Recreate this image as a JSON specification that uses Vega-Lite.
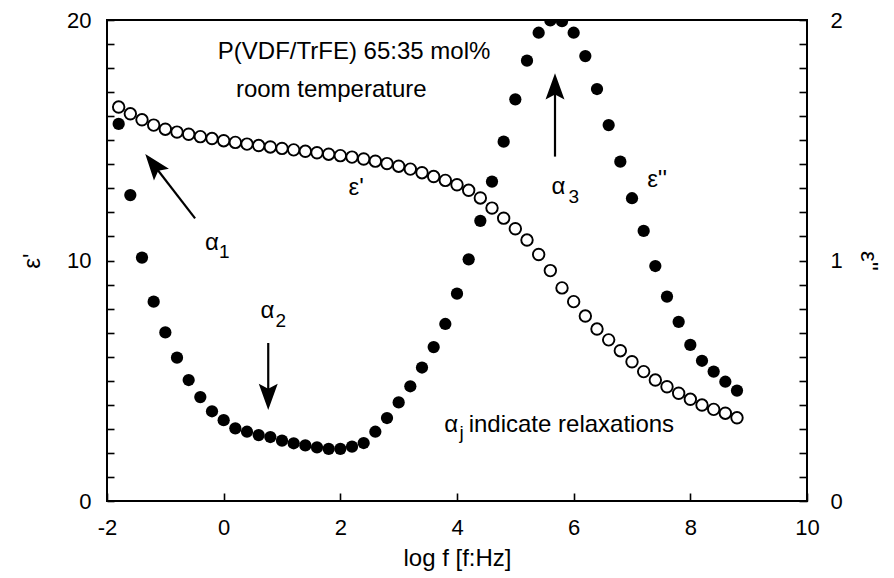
{
  "$schema": "https://vega.github.io/schema/vega-lite/v6.json",
  "width": 700,
  "height": 481,
  "autosize": {"type": "none"},
  "padding": {"left": 107, "top": 20, "right": 87, "bottom": 77},
  "background": "white",
  "config": {
    "view": {"stroke": "black", "strokeWidth": 2},
    "axis": {
      "labelFont": "Liberation Sans",
      "titleFont": "Liberation Sans",
      "labelColor": "black",
      "titleColor": "black",
      "labelFontSize": 22,
      "titleFontSize": 24,
      "titleFontWeight": "normal",
      "tickColor": "black",
      "tickWidth": 1.6,
      "domain": false,
      "grid": false,
      "labelOverlap": false,
      "labelFlush": false,
      "labelBound": false
    },
    "text": {"font": "Liberation Sans", "color": "black"}
  },
  "datasets": {
    "eps": [
      {"logf": -1.8, "e1": 16.38, "e2": 1.568},
      {"logf": -1.6, "e1": 16.10, "e2": 1.272},
      {"logf": -1.4, "e1": 15.85, "e2": 1.012},
      {"logf": -1.2, "e1": 15.63, "e2": 0.829},
      {"logf": -1.0, "e1": 15.46, "e2": 0.701},
      {"logf": -0.8, "e1": 15.34, "e2": 0.596},
      {"logf": -0.6, "e1": 15.25, "e2": 0.503},
      {"logf": -0.4, "e1": 15.15, "e2": 0.432},
      {"logf": -0.2, "e1": 15.07, "e2": 0.373},
      {"logf": 0.0, "e1": 14.98, "e2": 0.336},
      {"logf": 0.2, "e1": 14.91, "e2": 0.302},
      {"logf": 0.4, "e1": 14.84, "e2": 0.288},
      {"logf": 0.6, "e1": 14.78, "e2": 0.274},
      {"logf": 0.8, "e1": 14.72, "e2": 0.266},
      {"logf": 1.0, "e1": 14.66, "e2": 0.251},
      {"logf": 1.2, "e1": 14.60, "e2": 0.240},
      {"logf": 1.4, "e1": 14.54, "e2": 0.231},
      {"logf": 1.6, "e1": 14.48, "e2": 0.223},
      {"logf": 1.8, "e1": 14.42, "e2": 0.217},
      {"logf": 2.0, "e1": 14.36, "e2": 0.217},
      {"logf": 2.2, "e1": 14.30, "e2": 0.226},
      {"logf": 2.4, "e1": 14.22, "e2": 0.241},
      {"logf": 2.6, "e1": 14.13, "e2": 0.288},
      {"logf": 2.8, "e1": 14.03, "e2": 0.345},
      {"logf": 3.0, "e1": 13.92, "e2": 0.410},
      {"logf": 3.2, "e1": 13.80, "e2": 0.477},
      {"logf": 3.4, "e1": 13.65, "e2": 0.555},
      {"logf": 3.6, "e1": 13.49, "e2": 0.640},
      {"logf": 3.8, "e1": 13.33, "e2": 0.736},
      {"logf": 4.0, "e1": 13.15, "e2": 0.862},
      {"logf": 4.2, "e1": 12.92, "e2": 1.005},
      {"logf": 4.4, "e1": 12.60, "e2": 1.165},
      {"logf": 4.6, "e1": 12.18, "e2": 1.328},
      {"logf": 4.8, "e1": 11.76, "e2": 1.494},
      {"logf": 5.0, "e1": 11.32, "e2": 1.670},
      {"logf": 5.2, "e1": 10.85, "e2": 1.831},
      {"logf": 5.4, "e1": 10.25, "e2": 1.947},
      {"logf": 5.6, "e1": 9.58, "e2": 1.998},
      {"logf": 5.8, "e1": 8.86, "e2": 1.995},
      {"logf": 6.0, "e1": 8.29, "e2": 1.947},
      {"logf": 6.2, "e1": 7.69, "e2": 1.850},
      {"logf": 6.4, "e1": 7.15, "e2": 1.713},
      {"logf": 6.6, "e1": 6.70, "e2": 1.563},
      {"logf": 6.8, "e1": 6.25, "e2": 1.411},
      {"logf": 7.0, "e1": 5.79, "e2": 1.259},
      {"logf": 7.2, "e1": 5.38, "e2": 1.123},
      {"logf": 7.4, "e1": 5.03, "e2": 0.977},
      {"logf": 7.6, "e1": 4.75, "e2": 0.850},
      {"logf": 7.8, "e1": 4.48, "e2": 0.745},
      {"logf": 8.0, "e1": 4.23, "e2": 0.649},
      {"logf": 8.2, "e1": 3.99, "e2": 0.583},
      {"logf": 8.4, "e1": 3.81, "e2": 0.538},
      {"logf": 8.6, "e1": 3.65, "e2": 0.496},
      {"logf": 8.8, "e1": 3.46, "e2": 0.459}
    ],
    "centered": [
      {"logf": 2.27, "e1": 13.01, "label": "ε'"},
      {"logf": 7.43, "e1": 13.35, "label": "ε''"},
      {"logf": -0.2, "e1": 10.73, "label": "α"},
      {"logf": 0.75, "e1": 7.88, "label": "α"},
      {"logf": 5.74, "e1": 13.04, "label": "α"},
      {"logf": 3.9, "e1": 3.16, "label": "α"}
    ],
    "subs": [
      {"logf": 0.01, "e1": 10.35, "label": "1"},
      {"logf": 0.98, "e1": 7.5, "label": "2"},
      {"logf": 6.0, "e1": 12.65, "label": "3"},
      {"logf": 4.08, "e1": 2.83, "label": "j"}
    ],
    "lefttext": [
      {"logf": -0.1, "e1": 18.67, "label": "P(VDF/TrFE) 65:35 mol%"},
      {"logf": 0.21, "e1": 17.09, "label": "room temperature"},
      {"logf": 4.2, "e1": 3.16, "label": "indicate relaxations"}
    ],
    "arrows": [
      {"id": "a1", "logf": -0.49, "e1": 11.75, "hx": -1.19, "hy": 13.95},
      {"id": "a2", "logf": 0.764, "e1": 6.57, "hx": 0.764, "hy": 4.39},
      {"id": "a3", "logf": 5.68, "e1": 14.32, "hx": 5.68, "hy": 17.18}
    ]
  },
  "layer": [
    {
      "data": {"name": "eps"},
      "mark": {"type": "circle", "color": "black", "size": 150, "opacity": 1, "clip": true},
      "encoding": {
        "x": {"field": "logf", "type": "quantitative", "scale": {"domain": [-2, 10], "nice": false},
              "axis": {"values": [-2, 0, 2, 4, 6, 8, 10], "labelExpr": "datum.value < 0 ? '-' + format(abs(datum.value), 'd') : format(datum.value, 'd')", "offset": -8, "tickSize": 8, "labelPadding": 16, "title": "log f [f:Hz]", "titlePadding": 8}},
        "y": {"field": "e2", "type": "quantitative", "scale": {"domain": [0, 2], "nice": false},
              "axis": {"orient": "right", "values": [0,0.1,0.2,0.3,0.4,0.5,0.6,0.7,0.8,0.9,1,1.1,1.2,1.3,1.4,1.5,1.6,1.7,1.8,1.9,2], "labelExpr": "abs(datum.value - round(datum.value)) < 0.001 ? format(datum.value, 'd') : ''", "offset": -8, "tickSize": 8, "labelPadding": 23, "title": "ε''", "titlePadding": 13}}
      }
    },
    {
      "data": {"name": "eps"},
      "mark": {"type": "point", "shape": "circle", "filled": true, "fill": "white", "stroke": "black", "strokeWidth": 1.9, "size": 132, "opacity": 1},
      "encoding": {
        "x": {"field": "logf", "type": "quantitative", "scale": {"domain": [-2, 10], "nice": false},
              "axis": {"values": [-2, 0, 2, 4, 6, 8, 10], "labelExpr": "datum.value < 0 ? '-' + format(abs(datum.value), 'd') : format(datum.value, 'd')", "offset": -8, "tickSize": 8, "labelPadding": 16, "title": "log f [f:Hz]", "titlePadding": 8}},
        "y": {"field": "e1", "type": "quantitative", "scale": {"domain": [0, 20], "nice": false},
              "axis": {"orient": "left", "values": [0,1,2,3,4,5,6,7,8,9,10,11,12,13,14,15,16,17,18,19,20], "labelExpr": "datum.value % 10 === 0 ? format(datum.value, 'd') : ''", "offset": -7, "tickSize": 7, "labelPadding": 16, "title": "ε'", "titlePadding": 22}}
      }
    },
    {
      "data": {"name": "centered"},
      "mark": {"type": "text", "fontSize": 24, "align": "center", "baseline": "middle"},
      "encoding": {
        "x": {"field": "logf", "type": "quantitative", "scale": {"domain": [-2, 10], "nice": false},
              "axis": {"values": [-2, 0, 2, 4, 6, 8, 10], "labelExpr": "datum.value < 0 ? '-' + format(abs(datum.value), 'd') : format(datum.value, 'd')", "offset": -8, "tickSize": 8, "labelPadding": 16, "title": "log f [f:Hz]", "titlePadding": 8}},
        "y": {"field": "e1", "type": "quantitative", "scale": {"domain": [0, 20], "nice": false}, "axis": null},
        "text": {"field": "label"}
      }
    },
    {
      "data": {"name": "subs"},
      "mark": {"type": "text", "fontSize": 19, "align": "center", "baseline": "middle"},
      "encoding": {
        "x": {"field": "logf", "type": "quantitative", "scale": {"domain": [-2, 10], "nice": false},
              "axis": {"values": [-2, 0, 2, 4, 6, 8, 10], "labelExpr": "datum.value < 0 ? '-' + format(abs(datum.value), 'd') : format(datum.value, 'd')", "offset": -8, "tickSize": 8, "labelPadding": 16, "title": "log f [f:Hz]", "titlePadding": 8}},
        "y": {"field": "e1", "type": "quantitative", "scale": {"domain": [0, 20], "nice": false}, "axis": null},
        "text": {"field": "label"}
      }
    },
    {
      "data": {"name": "lefttext"},
      "mark": {"type": "text", "fontSize": 24, "align": "left", "baseline": "middle"},
      "encoding": {
        "x": {"field": "logf", "type": "quantitative", "scale": {"domain": [-2, 10], "nice": false},
              "axis": {"values": [-2, 0, 2, 4, 6, 8, 10], "labelExpr": "datum.value < 0 ? '-' + format(abs(datum.value), 'd') : format(datum.value, 'd')", "offset": -8, "tickSize": 8, "labelPadding": 16, "title": "log f [f:Hz]", "titlePadding": 8}},
        "y": {"field": "e1", "type": "quantitative", "scale": {"domain": [0, 20], "nice": false}, "axis": null},
        "text": {"field": "label"}
      }
    },
    {
      "data": {"name": "arrows"},
      "mark": {"type": "rule", "color": "black", "strokeWidth": 2.2},
      "encoding": {
        "x": {"field": "logf", "type": "quantitative", "scale": {"domain": [-2, 10], "nice": false},
              "axis": {"values": [-2, 0, 2, 4, 6, 8, 10], "labelExpr": "datum.value < 0 ? '-' + format(abs(datum.value), 'd') : format(datum.value, 'd')", "offset": -8, "tickSize": 8, "labelPadding": 16, "title": "log f [f:Hz]", "titlePadding": 8}},
        "y": {"field": "e1", "type": "quantitative", "scale": {"domain": [0, 20], "nice": false}, "axis": null},
        "x2": {"field": "hx"},
        "y2": {"field": "hy"}
      }
    },
    {
      "data": {"name": "arrows"},
      "transform": [{"filter": "datum.id === 'a1'"}],
      "mark": {"type": "point", "shape": "M0,-1L0.65,0.8L0,0.45L-0.65,0.8Z", "filled": true, "color": "black", "opacity": 1, "size": 850, "angle": 322},
      "encoding": {
        "x": {"field": "hx", "type": "quantitative", "scale": {"domain": [-2, 10], "nice": false},
              "axis": {"values": [-2, 0, 2, 4, 6, 8, 10], "labelExpr": "datum.value < 0 ? '-' + format(abs(datum.value), 'd') : format(datum.value, 'd')", "offset": -8, "tickSize": 8, "labelPadding": 16, "title": "log f [f:Hz]", "titlePadding": 8}},
        "y": {"field": "hy", "type": "quantitative", "scale": {"domain": [0, 20], "nice": false}, "axis": null}
      }
    },
    {
      "data": {"name": "arrows"},
      "transform": [{"filter": "datum.id === 'a2'"}],
      "mark": {"type": "point", "shape": "M0,-1L0.65,0.8L0,0.45L-0.65,0.8Z", "filled": true, "color": "black", "opacity": 1, "size": 850, "angle": 180},
      "encoding": {
        "x": {"field": "hx", "type": "quantitative", "scale": {"domain": [-2, 10], "nice": false},
              "axis": {"values": [-2, 0, 2, 4, 6, 8, 10], "labelExpr": "datum.value < 0 ? '-' + format(abs(datum.value), 'd') : format(datum.value, 'd')", "offset": -8, "tickSize": 8, "labelPadding": 16, "title": "log f [f:Hz]", "titlePadding": 8}},
        "y": {"field": "hy", "type": "quantitative", "scale": {"domain": [0, 20], "nice": false}, "axis": null}
      }
    },
    {
      "data": {"name": "arrows"},
      "transform": [{"filter": "datum.id === 'a3'"}],
      "mark": {"type": "point", "shape": "M0,-1L0.65,0.8L0,0.45L-0.65,0.8Z", "filled": true, "color": "black", "opacity": 1, "size": 850, "angle": 0},
      "encoding": {
        "x": {"field": "hx", "type": "quantitative", "scale": {"domain": [-2, 10], "nice": false},
              "axis": {"values": [-2, 0, 2, 4, 6, 8, 10], "labelExpr": "datum.value < 0 ? '-' + format(abs(datum.value), 'd') : format(datum.value, 'd')", "offset": -8, "tickSize": 8, "labelPadding": 16, "title": "log f [f:Hz]", "titlePadding": 8}},
        "y": {"field": "hy", "type": "quantitative", "scale": {"domain": [0, 20], "nice": false}, "axis": null}
      }
    }
  ],
  "resolve": {"scale": {"y": "independent"}, "axis": {"y": "independent"}}
}
